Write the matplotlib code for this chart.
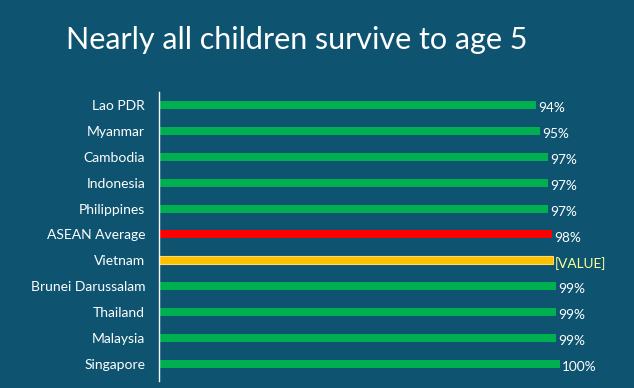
import matplotlib
matplotlib.use("Agg")
import matplotlib.pyplot as plt

countries = ["Lao PDR", "Myanmar", "Cambodia", "Indonesia", "Philippines",
             "ASEAN Average", "Vietnam", "Brunei Darussalam", "Thailand",
             "Malaysia", "Singapore"]
values = [94, 95, 97, 97, 97, 98, 98.2, 99, 99, 99, 100]
labels = ["94%", "95%", "97%", "97%", "97%", "98%", "[VALUE]", "99%", "99%", "99%", "100%"]
colors = ["#00B050"] * 5 + ["#FF0000", "#FFC000"] + ["#00B050"] * 4
title = "Nearly all children survive to age 5"

bg = "#0E5470"
fig = plt.figure(figsize=(6.34, 3.88), dpi=100, facecolor=bg)
ax = fig.add_axes([159/634, 1 - 381/388, (560-159)/634, (381-92)/388])
ax.set_facecolor(bg)

ypos = list(range(len(countries)))
edges = ["#FFD966" if c == "#FFC000" else "none" for c in colors]
ax.barh(ypos, values, height=0.31, color=colors, edgecolor=edges, linewidth=0.8)
ax.set_xlim(0, 100)
ax.set_ylim(10.66, -0.5)

for y, v, lab in zip(ypos, values, labels):
    col = "#FFFF99" if lab == "[VALUE]" else "white"
    ax.text(v + 0.6, y + 0.12, lab, color=col, fontsize=9.8, family="Lato",
            va="center", ha="left", clip_on=False)

ax.set_yticks(ypos)
ax.set_yticklabels(countries, color="white", fontsize=10, family="Lato")
ax.tick_params(axis="y", length=0, pad=10)
ax.set_xticks([])
for s in ["top", "right", "bottom"]:
    ax.spines[s].set_visible(False)
ax.spines["left"].set_color("white")
ax.spines["left"].set_linewidth(1.0)

fig.text(66/634, 1 - 40/388, title, color="white", fontsize=22, family="Lato",
         ha="left", va="center")

fig.savefig("out.png", dpi=100, facecolor=bg)
